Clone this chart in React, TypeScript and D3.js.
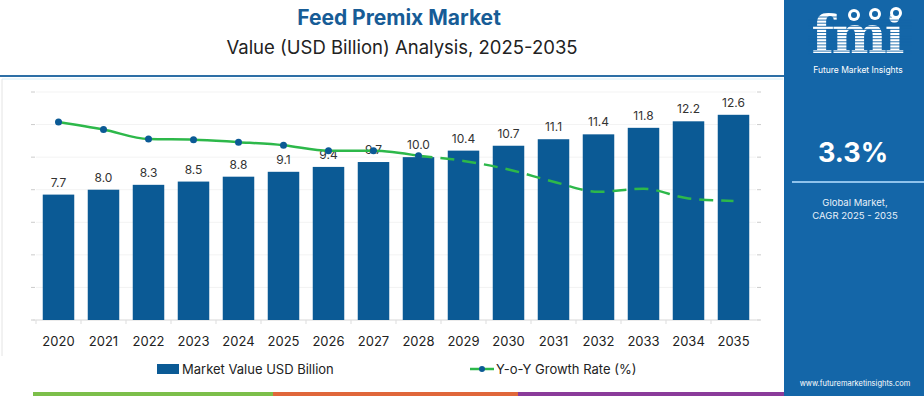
import React from "react";
import * as d3 from "d3";

const years = ["2020","2021","2022","2023","2024","2025","2026","2027","2028","2029","2030","2031","2032","2033","2034","2035"];
const marketValues = [7.7, 8.0, 8.3, 8.5, 8.8, 9.1, 9.4, 9.7, 10.0, 10.4, 10.7, 11.1, 11.4, 11.8, 12.2, 12.6];
const growthRates = [3.91, 3.76, 3.57, 3.56, 3.51, 3.45, 3.34, 3.34, 3.24, 3.14, 2.97, 2.73, 2.53, 2.59, 2.4, 2.35];
const lastActual = "2028";
const yTicks = [0, 2, 4, 6, 8, 10, 12, 14];

const W = 924;
const H = 396;
const BLUE = "#0b5a95";
const GREEN = "#2db84a";
const FONT = "Inter, 'Open Sans', sans-serif";

export default function App() {
  const x = d3.scaleBand().domain(years).range([36, 756]).paddingInner(0.3).paddingOuter(0.15);
  const y = d3.scaleLinear().domain([0, 14]).range([320, 92]);
  const yg = d3.scaleLinear().domain([0, 4.5]).range([320, 92]);
  const cx = (d: string) => (x(d) ?? 0) + x.bandwidth() / 2;

  const pts = years.map((yr, i) => ({ yr, v: growthRates[i] }));
  const cut = years.indexOf(lastActual);
  const line = d3.line<{ yr: string; v: number }>().x((d) => cx(d.yr)).y((d) => yg(d.v)).curve(d3.curveMonotoneX);
  const solid = pts.slice(0, cut + 1);
  const dashed = pts.slice(cut);

  const stripeYs = d3.range(17, 56, 3.1);

  return (
    <svg width={W} height={H} style={{ position: "absolute", left: 0, top: 0, background: "#fff" }} fontFamily={FONT}>
      {/* header */}
      <text x={399} y={25} textAnchor="middle" fontSize={21} fontWeight={700} fill="#175c96">Feed Premix Market</text>
      <text x={402} y={54} textAnchor="middle" fontSize={18.5} fill="#222">Value (USD Billion) Analysis, 2025-2035</text>
      <line x1={0} x2={784} y1={76} y2={76} stroke="#2d6fa6" strokeWidth={2} />
      <line x1={2} x2={783} y1={79} y2={79} stroke="#d6eef8" strokeWidth={1} />
      <line x1={2} x2={2} y1={79} y2={356} stroke="#e4e4e4" strokeWidth={1} />

      {/* grid + ticks */}
      {yTicks.map((t) => (
        <g key={t}>
          <line x1={36} x2={756} y1={y(t)} y2={y(t)} stroke="#f3f3f3" />
          <line x1={31} x2={35} y1={y(t)} y2={y(t)} stroke="#ccc" />
          <line x1={757} x2={761} y1={y(t)} y2={y(t)} stroke="#ccc" />
        </g>
      ))}
      <line x1={33} x2={760} y1={320} y2={320} stroke="#ddd" />
      {years.map((yr) => (
        <line key={yr} x1={(x(yr) ?? 0) - (x.step() - x.bandwidth()) / 2} x2={(x(yr) ?? 0) - (x.step() - x.bandwidth()) / 2} y1={320} y2={324} stroke="#ddd" />
      ))}

      {/* bars */}
      {years.map((yr, i) => (
        <g key={yr}>
          <rect x={x(yr)} y={y(marketValues[i])} width={x.bandwidth()} height={y(0) - y(marketValues[i])} fill={BLUE} />
          <text x={cx(yr)} y={y(marketValues[i]) - 8} textAnchor="middle" fontSize={12} fill="#333">{marketValues[i].toFixed(1)}</text>
          <text x={cx(yr)} y={346} textAnchor="middle" fontSize={13} fill="#222">{yr}</text>
        </g>
      ))}

      {/* growth line */}
      <path d={line(solid) ?? ""} fill="none" stroke={GREEN} strokeWidth={2.5} />
      <path d={line(dashed) ?? ""} fill="none" stroke={GREEN} strokeWidth={2.5} strokeDasharray="14,8" />
      {solid.map((d) => (
        <circle key={d.yr} cx={cx(d.yr)} cy={yg(d.v)} r={3.5} fill={BLUE} />
      ))}

      {/* legend */}
      <rect x={157} y={364} width={22} height={10} fill={BLUE} />
      <text x={182} y={374} fontSize={13} fill="#222">Market Value USD Billion</text>
      <line x1={470} x2={494} y1={369} y2={369} stroke={GREEN} strokeWidth={2.5} />
      <circle cx={482} cy={369} r={3} fill={BLUE} />
      <text x={496} y={374} fontSize={13} fill="#222">Y-o-Y Growth Rate (%)</text>

      {/* bottom strip */}
      <rect x={33} y={392} width={240} height={4} fill="#7cbf4a" />
      <rect x={273} y={392} width={245} height={4} fill="#e0673a" />
      <rect x={518} y={392} width={266} height={4} fill="#8a3b9a" />

      {/* right panel */}
      <rect x={784} y={0} width={140} height={H} fill="#1466a8" />
      <g>
        <text x={857} y={53} textAnchor="middle" fontSize={52} fontWeight={700} fontFamily="'DejaVu Serif', serif" fill="#fff" letterSpacing={-2}>fmi</text>
        {stripeYs.map((sy) => (
          <line key={sy} x1={808} x2={912} y1={sy} y2={sy} stroke="#1466a8" strokeWidth={0.9} />
        ))}
        <circle cx={854} cy={15} r={6} fill="#fff" />
        <circle cx={875} cy={14} r={6} fill="#fff" />
        <circle cx={896} cy={13} r={6} fill="#fff" />
        <circle cx={854} cy={15} r={3} fill="#1466a8" />
        <circle cx={875} cy={14} r={3} fill="#1466a8" />
        <circle cx={896} cy={13} r={3} fill="#1466a8" />
        <text x={858} y={73} textAnchor="middle" fontSize={8.5} fill="#fff">Future Market Insights</text>
      </g>
      <text x={853} y={162} textAnchor="middle" fontSize={27} fontWeight={700} fill="#fff">3.3%</text>
      <line x1={792} x2={924} y1={182} y2={182} stroke="#8fc3ec" strokeWidth={2} />
      <text x={855} y={206} textAnchor="middle" fontSize={9.5} fill="#e8f1fa">Global Market,</text>
      <text x={855} y={219} textAnchor="middle" fontSize={9.5} fill="#e8f1fa">CAGR 2025 - 2035</text>
      <text x={855} y={386} textAnchor="middle" fontSize={7.5} fill="#fff">www.futuremarketinsights.com</text>
    </svg>
  );
}
